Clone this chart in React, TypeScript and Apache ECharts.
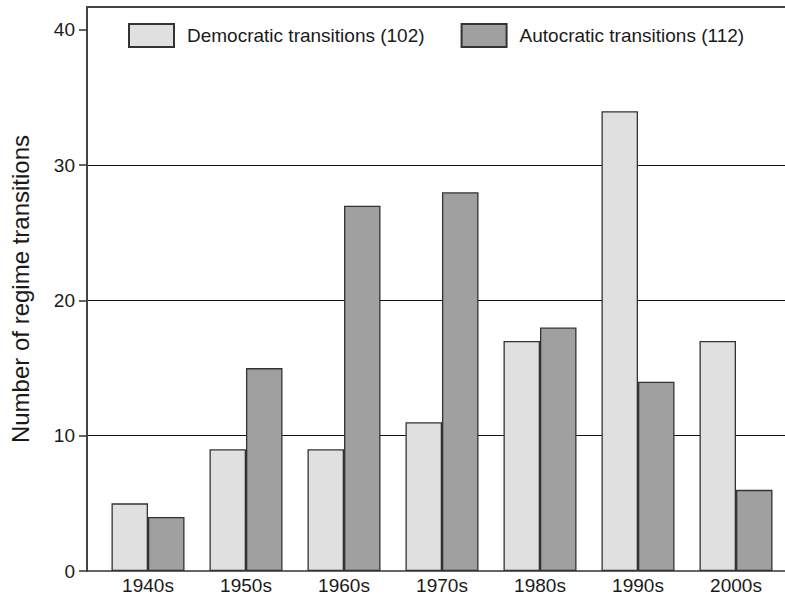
import React, { useEffect, useRef } from "react";
import * as echarts from "echarts";

const categories = ["1940s", "1950s", "1960s", "1970s", "1980s", "1990s", "2000s"];
const democratic = [5, 9, 9, 11, 17, 34, 17];
const autocratic = [4, 15, 27, 28, 18, 14, 6];
const yTicks = [0, 10, 20, 30, 40];
const seriesNames = ["Democratic transitions (102)", "Autocratic transitions (112)"];

const FONT = "'Liberation Sans', Arial, sans-serif";
const TEXT = "#1a1a1a";
const YMAX = 41.7;

export default function App() {
  const ref = useRef<HTMLDivElement>(null);
  useEffect(() => {
    if (!ref.current) return;
    const chart = echarts.init(ref.current, null, { renderer: "svg" });
    chart.setOption({
      animation: false,
      backgroundColor: "#ffffff",
      textStyle: { fontFamily: FONT },
      legend: {
        left: 128,
        top: 23,
        padding: 0,
        icon: "rect",
        itemWidth: 45,
        itemHeight: 23,
        itemGap: 36,
        textStyle: { fontSize: 19, color: TEXT, fontFamily: FONT, padding: [0, 0, 0, 8] },
        data: seriesNames,
      },
      grid: [
        { left: 85, right: 0, top: 7, bottom: 31, containLabel: false },
        { left: 99, right: 0, top: 7, bottom: 31, containLabel: false },
      ],
      xAxis: [
        {
          gridIndex: 0,
          type: "value",
          min: 0,
          max: 1,
          position: "bottom",
          axisLine: { show: true, lineStyle: { color: "#333", width: 1.5 } },
          axisTick: { show: false },
          axisLabel: { show: false },
          splitLine: { show: false },
        },
        {
          gridIndex: 0,
          type: "value",
          min: 0,
          max: 1,
          position: "top",
          axisLine: { show: true, lineStyle: { color: "#444", width: 2 } },
          axisTick: { show: false },
          axisLabel: { show: false },
          splitLine: { show: false },
        },
        {
          gridIndex: 1,
          type: "category",
          data: categories,
          axisLine: { show: false },
          axisTick: { show: false },
          axisLabel: { fontSize: 19, color: TEXT, margin: 5, fontFamily: FONT },
        },
      ],
      yAxis: [
        {
          gridIndex: 0,
          type: "value",
          min: 0,
          max: YMAX,
          interval: 10,
          name: "Number of regime transitions",
          nameLocation: "middle",
          nameGap: 55,
          nameTextStyle: { fontSize: 24, color: TEXT, fontFamily: FONT },
          axisLine: { show: true, lineStyle: { color: "#444", width: 2 } },
          axisTick: {
            show: true,
            length: 8,
            customValues: yTicks,
            lineStyle: { color: "#333", width: 1.5 },
          },
          axisLabel: {
            fontSize: 19,
            color: TEXT,
            margin: 12,
            customValues: yTicks,
            fontFamily: FONT,
          },
          splitLine: {
            show: true,
            lineStyle: {
              color: ["rgba(0,0,0,0)", "#111", "#111", "#111", "rgba(0,0,0,0)", "rgba(0,0,0,0)"],
              width: 1,
            },
          },
        },
        {
          gridIndex: 1,
          type: "value",
          min: 0,
          max: YMAX,
          show: false,
          splitLine: { show: false },
        },
      ],
      series: [
        {
          name: seriesNames[0],
          type: "bar",
          xAxisIndex: 2,
          yAxisIndex: 1,
          data: democratic,
          barGap: "0%",
          barCategoryGap: "25.5%",
          itemStyle: { color: "#e0e0e0", borderColor: "#333", borderWidth: 1.3 },
        },
        {
          name: seriesNames[1],
          type: "bar",
          xAxisIndex: 2,
          yAxisIndex: 1,
          data: autocratic,
          barGap: "0%",
          barCategoryGap: "25.5%",
          itemStyle: { color: "#a0a0a0", borderColor: "#333", borderWidth: 1.3 },
        },
      ],
    });
    return () => chart.dispose();
  }, []);
  return (
    <div
      ref={ref}
      style={{ position: "fixed", left: 0, top: 0, width: 785, height: 602 }}
    />
  );
}
